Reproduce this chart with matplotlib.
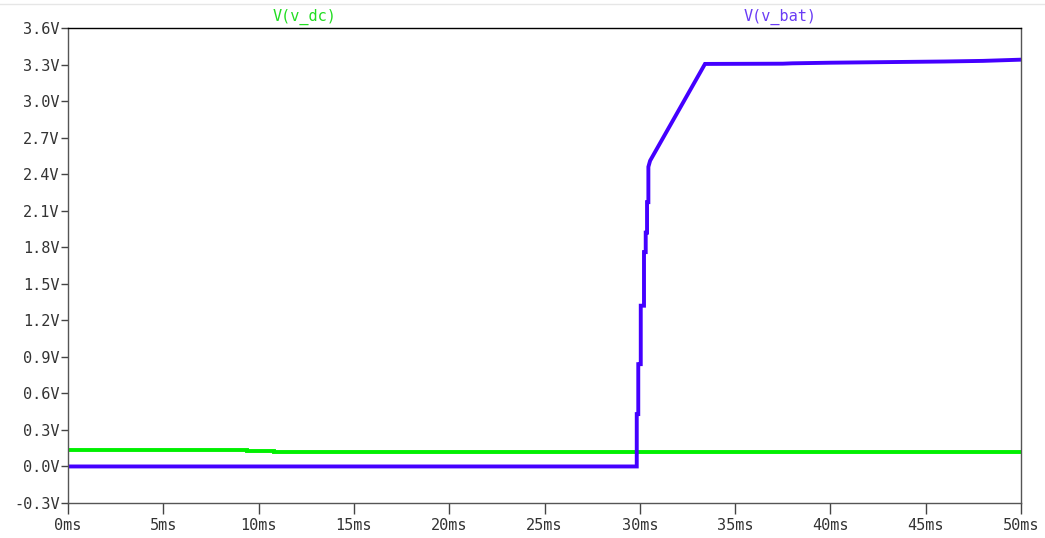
"""LTspice-style transient plot of V(v_dc) and V(v_bat)."""

import matplotlib

matplotlib.use("Agg")
import matplotlib.pyplot as plt
from matplotlib.ticker import FuncFormatter, MultipleLocator

# time in ms, voltage in V
t_dc = [0.0, 9.4, 9.4, 10.8, 10.8, 11.6, 11.6, 50.0]
v_dc = [0.137, 0.137, 0.127, 0.127, 0.119, 0.119, 0.118, 0.118]

t_bat = [0.0, 29.84, 29.84, 29.92, 29.92, 30.05, 30.05, 30.22, 30.22,
         30.31, 30.31, 30.38, 30.38, 30.45, 30.45, 30.54, 33.42,
         37.5, 38.0, 40.0, 43.0, 46.0, 48.0, 50.0]
v_bat = [0.0, 0.0, 0.43, 0.43, 0.84, 0.84, 1.32, 1.32, 1.76,
         1.76, 1.92, 1.92, 2.17, 2.17, 2.46, 2.51, 3.305,
         3.307, 3.31, 3.315, 3.32, 3.325, 3.33, 3.34]

x_ticks = [0, 5, 10, 15, 20, 25, 30, 35, 40, 45, 50]
y_lim = (-0.3, 3.6)

GREEN = "#00f000"
BLUE = "#4400ff"
MONO = "DejaVu Sans Mono"
FS = 11

fig = plt.figure(figsize=(10.45, 5.38), dpi=100)
ax = fig.add_axes([68 / 1045, 35 / 538, 953 / 1045, 475 / 538])

ax.plot(t_dc, v_dc, color=GREEN, linewidth=2.8, solid_joinstyle="miter")
ax.plot(t_bat, v_bat, color=BLUE, linewidth=2.8, solid_joinstyle="miter")

ax.set_xlim(0, 50)
ax.set_ylim(*y_lim)
ax.set_xticks(x_ticks)
ax.yaxis.set_major_locator(MultipleLocator(0.3))
ax.xaxis.set_major_formatter(FuncFormatter(lambda v, _: f"{v:.0f}ms"))
ax.yaxis.set_major_formatter(FuncFormatter(lambda v, _: f"{v:.1f}V".replace("−", "-")))

ax.tick_params(axis="y", length=5, width=1, color="#444", labelsize=FS,
               labelcolor="#333", pad=1)
ax.tick_params(axis="x", length=8, width=1, color="#444", labelsize=FS,
               labelcolor="#333", pad=3)
for lbl in ax.get_xticklabels() + ax.get_yticklabels():
    lbl.set_fontfamily(MONO)

for side in ("left", "bottom", "right"):
    ax.spines[side].set_color("#555")
    ax.spines[side].set_linewidth(1)
ax.spines["top"].set_color("black")
ax.spines["top"].set_linewidth(1)

fig.text(305 / 1045, 1 - 17 / 538, "V(v_dc)", color="#22dd22", ha="center",
         va="center", fontsize=FS, family=MONO)
fig.text(780 / 1045, 1 - 17 / 538, "V(v_bat)", color="#6a3cf5", ha="center",
         va="center", fontsize=FS, family=MONO)

# faint separator line at the top of the window
fig.add_artist(plt.Line2D([0, 1], [1 - 4 / 538] * 2, color="#e6e6e6",
                          linewidth=1, transform=fig.transFigure))

fig.savefig("out.png", dpi=100)
